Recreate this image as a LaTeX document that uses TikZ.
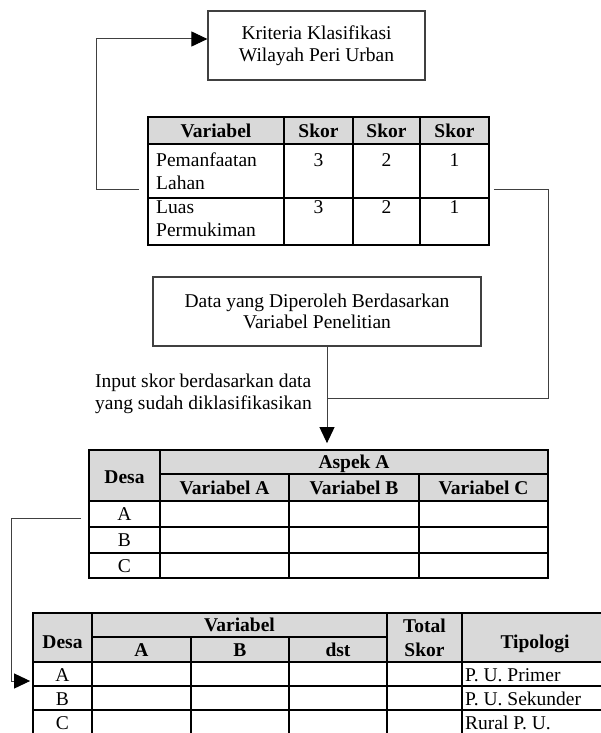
\documentclass[tikz,border=0pt]{standalone}
\usepackage{fontspec}
\setmainfont{Liberation Serif}
\usetikzlibrary{arrows.meta,positioning}

\begin{document}
\begin{tikzpicture}[x=1pt, y=-1pt,
  font=\fontsize{19.5}{21.5}\selectfont,
  kotak/.style={draw=black!75, line width=1.2pt, align=center, inner sep=0pt},
  garis/.style={draw=black!75, line width=1pt},
  panah/.style={garis, -{Triangle[length=16pt, width=15pt, color=black, fill=black]}},
  kisi/.style={line width=1.8pt},
  kepala/.style={fill=black!15},
  sel/.style={anchor=base, inner sep=0pt},
  tebal/.style={sel, font=\fontsize{19.5}{21.5}\selectfont\bfseries}]
  \clip (0,0) rectangle (601,733);

  % --- Kotak kriteria ---
  \node[kotak, minimum width=217pt, minimum height=69pt] (kriteria) at (316.5,45.5)
    {Kriteria Klasifikasi\\Wilayah Peri Urban};

  % --- Tabel skor ---
  \fill[kepala] (148,117) rectangle (489,144);
  \node[draw, kisi, minimum width=341pt, minimum height=128pt, inner sep=0pt] (tabSkor) at (318.5,181) {};
  \draw[kisi] (148,144) -- (489,144) (148,198) -- (489,198);
  \foreach \x in {284,353,420}{
    \draw[kisi] (\x,117) -- (\x,245);
  }
  \node[tebal] at (216,137.5) {Variabel};
  \foreach \x/\n in {318.5/3, 386.5/2, 454.5/1}{
    \node[tebal] at (\x,137.5) {Skor};
    \node[sel] at (\x,166.5) {\n};
    \node[sel] at (\x,213.5) {\n};
  }
  \foreach \y/\teks in {166.5/Pemanfaatan, 189.5/Lahan, 213.5/Luas, 236.5/Permukiman}{
    \node[sel, anchor=base west] at (156,\y) {\teks};
  }

  % --- Kotak data ---
  \node[kotak, minimum width=328pt, minimum height=69pt] (data) at (317,311.5)
    {Data yang Diperoleh Berdasarkan\\Variabel Penelitian};
  \node[anchor=west, align=left, inner sep=0pt] (keterangan) at (95,394)
    {Input skor berdasarkan data\\yang sudah diklasifikasikan};

  % --- Tabel aspek ---
  \fill[kepala] (89,450) rectangle (548,501);
  \node[draw, kisi, minimum width=459pt, minimum height=128pt, inner sep=0pt] (tabAspek) at (318.5,514) {};
  \draw[kisi] (160,474) -- (548,474);
  \foreach \y in {501,527,553}{
    \draw[kisi] (89,\y) -- (548,\y);
  }
  \draw[kisi] (160,450) -- (160,578);
  \foreach \x in {289,419}{
    \draw[kisi] (\x,474) -- (\x,578);
  }
  \node[tebal] at (124.5,483.5) {Desa};
  \node[tebal] at (354,468.5) {Aspek A};
  \foreach \x/\teks in {224.5/Variabel A, 354/Variabel B, 483.5/Variabel C}{
    \node[tebal] at (\x,494) {\teks};
  }
  \foreach \y/\teks in {520.5/A, 546.5/B, 572/C}{
    \node[sel] at (124.5,\y) {\teks};
  }

  % --- Tabel tipologi ---
  \fill[kepala] (33,613) rectangle (608,662);
  \node[draw, kisi, minimum width=575pt, minimum height=121pt, inner sep=0pt] (tabTipologi) at (320.5,673.5) {};
  \draw[kisi] (92,637) -- (387,637);
  \foreach \y in {662,686,710}{
    \draw[kisi] (33,\y) -- (608,\y);
  }
  \foreach \x in {92,387,462}{
    \draw[kisi] (\x,613) -- (\x,734);
  }
  \foreach \x in {191,289}{
    \draw[kisi] (\x,637) -- (\x,734);
  }
  \node[tebal] at (62.5,648) {Desa};
  \node[tebal] at (239.5,631.5) {Variabel};
  \foreach \x/\teks in {141.5/A, 240/B, 338/dst}{
    \node[tebal] at (\x,656) {\teks};
  }
  \node[tebal] at (424.5,632.5) {Total};
  \node[tebal] at (424.5,656.5) {Skor};
  \node[tebal] at (535,648) {Tipologi};
  \foreach \y/\d/\tipe in {681/A/P. U. Primer, 705/B/P. U. Sekunder, 729/C/Rural P. U.}{
    \node[sel] at (62.5,\y) {\d};
    \node[sel, anchor=base west] at (465,\y) {\tipe};
  }

  % --- Penghubung ---
  \coordinate (temu) at (327,398);
  \draw[panah] ([xshift=-8pt, yshift=-8pt]tabSkor.west) -- ++(-43,0)
    |- ([yshift=6.5pt]kriteria.west);
  \draw[garis] ([xshift=4pt, yshift=-8pt]tabSkor.east) -- ++(55,0) |- (temu);
  \draw[panah, shorten >=6pt] (data.south -| temu) -- (temu |- tabAspek.north);
  \draw[panah, shorten >=2pt] ([xshift=-7pt, yshift=-4pt]tabAspek.west) -- ++(-70,0)
    |- ([yshift=-7.5pt]tabTipologi.west);
\end{tikzpicture}
\end{document}
